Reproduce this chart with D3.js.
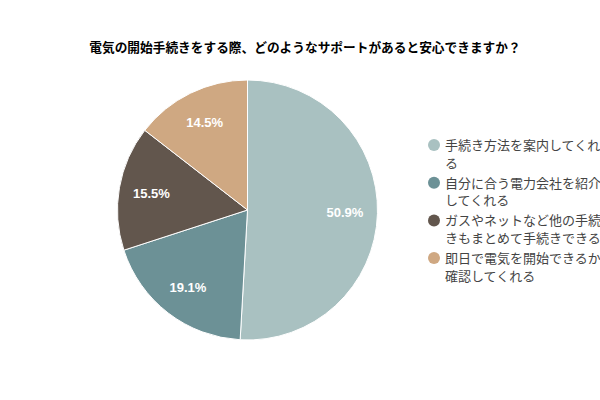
<!DOCTYPE html>
<html><head><meta charset="utf-8">
<script src="https://cdn.jsdelivr.net/npm/d3@7"></script>
<style>body{margin:0;background:#fff;}svg{display:block;}</style>
</head><body>
<script>
const title = "電気の開始手続きをする際、どのようなサポートがあると安心できますか？";
const categories = [
  ["手続き方法を案内してくれ", "る"],
  ["自分に合う電力会社を紹介", "してくれる"],
  ["ガスやネットなど他の手続", "きもまとめて手続きできる"],
  ["即日で電気を開始できるか", "確認してくれる"]
];
const values = [50.9, 19.1, 15.5, 14.5];
const colors = ["#a9c1c1", "#6c9196", "#62564d", "#cfa882"];

const W = 600, H = 400;
const svg = d3.select("body").append("svg").attr("width", W).attr("height", H);

svg.append("text").attr("x", 305).attr("y", 52).attr("text-anchor", "middle")
  .attr("font-family", "'Noto Sans CJK JP', sans-serif").attr("font-weight", "bold")
  .attr("font-size", 12.7).attr("fill", "#000").text(title);

const cx = 247.5, cy = 210, R = 130;
const pie = d3.pie().sort(null).value(d => d);
const arcs = pie(values);
const arc = d3.arc().innerRadius(0).outerRadius(R);
const labelArc = d3.arc().innerRadius(R * 0.75).outerRadius(R * 0.75);
const g = svg.append("g").attr("transform", `translate(${cx},${cy})`);
g.selectAll("path").data(arcs).join("path")
  .attr("d", arc).attr("fill", (d, i) => colors[i])
  .attr("stroke", "#fff").attr("stroke-width", 1);
g.selectAll("text").data(arcs).join("text")
  .attr("transform", d => `translate(${labelArc.centroid(d)})`)
  .attr("text-anchor", "middle").attr("dy", "0.35em")
  .attr("font-family", "Arial, 'Liberation Sans', sans-serif").attr("font-weight", "bold")
  .attr("font-size", 13).attr("fill", "#fff")
  .text(d => d3.format(".1f")(d.data) + "%");

const leg = svg.append("g");
const items = leg.selectAll("g").data(categories).join("g")
  .attr("transform", (d, i) => `translate(434,${145 + i * 37.7})`);
items.append("circle").attr("r", 6).attr("fill", (d, i) => colors[i]);
items.each(function(lines) {
  const t = d3.select(this).append("text")
    .attr("font-family", "'Noto Sans CJK JP', sans-serif").attr("font-size", 13)
    .attr("fill", "#444");
  lines.forEach((ln, j) => {
    t.append("tspan").attr("x", 11).attr("y", 5 + j * 17.5).text(ln);
  });
});
</script>
</body></html>
